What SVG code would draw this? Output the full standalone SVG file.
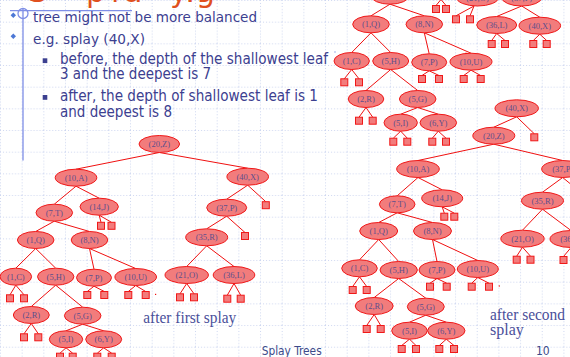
<svg xmlns="http://www.w3.org/2000/svg" xmlns:xlink="http://www.w3.org/1999/xlink" width="570" height="357" viewBox="0 0 570 357">
<style>
.nd ellipse{fill:#f27c7c;stroke:#f01818;stroke-width:1}
.nd text{font-family:"Liberation Serif",serif;font-size:8.5px;fill:#5c4f8c;text-anchor:middle}
.lf{fill:#f27c7c;stroke:#f01818;stroke-width:1}
#edges path{stroke:#f01010;stroke-width:1;fill:none}
.bt{font-family:"DejaVu Sans Condensed","DejaVu Sans",sans-serif;font-stretch:condensed;fill:#3c4090}
.cap{font-family:"Liberation Serif",serif;font-size:16px;fill:#4a4f9a}
.ft{font-family:"DejaVu Sans Condensed","DejaVu Sans",sans-serif;font-size:12px;fill:#3c4a8a}
.ttl{font-family:"DejaVu Sans",sans-serif;font-size:30px;fill:#e0501e}
</style>
<defs>
<pattern id="grid" width="21.67" height="21.67" patternUnits="userSpaceOnUse">
<path d="M0,0.5 H21.67 M0.5,0 V21.67" stroke="#cdd6f0" stroke-width="1" stroke-dasharray="1,2" fill="none"/>
</pattern>
<rect id="sq" x="-3.5" y="-3.5" width="7" height="7"/>
</defs>
<rect width="570" height="357" fill="#ffffff"/>
<rect width="570" height="357" fill="url(#grid)"/>

<g id="title">
<text class="ttl" x="28 86 111 124 170 186 186 196" y="1.5">Splaying</text>
</g>

<g id="decor" stroke="#7f8fe6" fill="none" stroke-width="1.3">
<path d="M10,10.7 H132 M23,8 V160.5"/>
<circle cx="23" cy="13.5" r="5"/>
</g>

<g id="bullets">
<path d="M13.3,12.5 L16,15.3 L13.3,18.1 L10.6,15.3Z" fill="#4d78d6"/>
<path d="M13.3,33.5 L16,36.3 L13.3,39.1 L10.6,36.3Z" fill="#4d78d6"/>
<rect x="42.7" y="58.3" width="4.6" height="4.8" fill="#3c4090"/>
<rect x="42.7" y="95" width="4.6" height="4.8" fill="#3c4090"/>
<text class="bt" x="33" y="22.3" font-size="14" textLength="224" lengthAdjust="spacingAndGlyphs">tree might not be more balanced</text>
<text class="bt" x="33" y="43.7" font-size="14" textLength="112" lengthAdjust="spacingAndGlyphs">e.g. splay (40,X)</text>
<text class="bt" x="60" y="64" font-size="15" textLength="268" lengthAdjust="spacingAndGlyphs">before, the depth of the shallowest leaf</text>
<text class="bt" x="60" y="79.3" font-size="15" textLength="151" lengthAdjust="spacingAndGlyphs">3 and the deepest is 7</text>
<text class="bt" x="60" y="101" font-size="15" textLength="258" lengthAdjust="spacingAndGlyphs">after, the depth of shallowest leaf is 1</text>
<text class="bt" x="60" y="116.7" font-size="15" textLength="112" lengthAdjust="spacingAndGlyphs">and deepest is 8</text>
</g>

<g id="edges">
<path d="M159.3,152.5 L76,169.2 M159.3,152.5 L247.7,168.2 M76,186.2 L54.3,204.2 M76,186.2 L99.2,198.2 M247.7,185.2 L226.7,199.2 M247.7,185.2 L265.8,201.7 M99.2,215.2 L101,222.3 M99.2,215.2 L111.5,222.3 M226.7,216.2 L206.7,228.8 M226.7,216.2 L245,232.5 M54.3,221.2 L35.7,231.5 M54.3,221.2 L89.5,231.5 M206.7,245.8 L186.7,266.5 M206.7,245.8 L234,266.5 M35.7,248.5 L15.8,268.2 M35.7,248.5 L55.7,268.2 M89.5,248.5 L94,269.2 M89.5,248.5 L135.7,268.5 M15.8,285.2 L10,294.8 M15.8,285.2 L24,294.8 M94,286.2 L87.3,291.5 M94,286.2 L104.3,291.5 M135.7,285.5 L128.3,291.5 M135.7,285.5 L145.7,291.5 M186.7,283.5 L180,293.8 M186.7,283.5 L194,293.8 M234,283.5 L227.3,295.2 M234,283.5 L240.7,295.2 M55.7,285.2 L31.3,306.5 M55.7,285.2 L82.7,307.2 M31.3,323.5 L24,333.8 M31.3,323.5 L38.3,333.8 M82.7,324.2 L66,330.8 M82.7,324.2 L103.7,330.8 M66,347.8 L60,353.2 M66,347.8 L72.7,353.2 M103.7,347.8 L97.3,353.2 M103.7,347.8 L111.7,353.2"/>
<path d="M516.7,116.8 L493.8,127.2 M516.7,116.8 L534.3,133.8 M493.8,144.2 L418,160.5 M493.8,144.2 L562.7,160.5 M418,177.5 L397.2,195.8 M418,177.5 L442.2,189.8 M442.2,206.8 L444.3,213.2 M442.2,206.8 L454.3,213.2 M562.7,177.5 L542.5,192.2 M562.7,177.5 L590,200 M397.2,212.8 L378.7,222.5 M397.2,212.8 L432.5,222.5 M542.5,209.2 L522.5,230.2 M542.5,209.2 L571,230.5 M522.5,247.2 L516.7,256.2 M522.5,247.2 L530.5,256.2 M571,247.5 L563.5,256.5 M571,247.5 L578,256.5 M378.7,239.5 L359.5,259.8 M378.7,239.5 L398.7,261.5 M432.5,239.5 L437,261.5 M432.5,239.5 L477.8,260.5 M359.5,276.8 L352.7,286.5 M359.5,276.8 L366.7,286.5 M437,278.5 L430,283.2 M437,278.5 L446.7,283.2 M477.8,277.5 L471.7,283.2 M477.8,277.5 L489,283.2 M398.7,278.5 L374.2,297.5 M398.7,278.5 L425.8,298.2 M374.2,314.5 L366.7,325.5 M374.2,314.5 L380.7,325.5 M425.8,315.2 L409.5,322.2 M425.8,315.2 L446.3,322.2 M409.5,339.2 L401.7,345.5 M409.5,339.2 L416,345.5 M446.3,339.2 L439.3,345.5 M446.3,339.2 L454,345.5"/>
<path d="M390,4.2 L371,15.8 M390,4.2 L424.3,15.8 M441,-0.5 L436,5.5 M441,-0.5 L446,5.5 M474,6 L456,15.8 M474,6 L470,15.8 M521.7,6 L496.7,16.5 M521.7,6 L539.8,17.2 M496.7,33.5 L491.7,40.5 M496.7,33.5 L505,40.5 M539.8,34.2 L533.3,40.5 M539.8,34.2 L546.7,40.5 M371,32.8 L351.7,52.5 M371,32.8 L390.7,52.5 M424.3,32.8 L429.2,53.8 M424.3,32.8 L471,53.2 M351.7,69.5 L344.3,78.8 M351.7,69.5 L359,78.8 M429.2,70.8 L422,75.5 M429.2,70.8 L439,75.5 M471,70.2 L463.7,75.5 M471,70.2 L480.7,75.5 M390.7,69.5 L366,90.5 M390.7,69.5 L417.7,90.5 M366,107.5 L359,117.2 M366,107.5 L372.7,117.2 M417.7,107.5 L400.7,114.2 M417.7,107.5 L438.3,114.2 M400.7,131.2 L393.3,138.2 M400.7,131.2 L407.3,138.2 M438.3,131.2 L432.3,138.2 M438.3,131.2 L446,138.2"/>
</g>

<g id="tree-first">
<g id="A20Z" class="nd"><ellipse cx="159.3" cy="144" rx="20.3" ry="8.5"/><text x="159.3" y="147">(20,Z)</text></g>
<g id="A10A" class="nd"><ellipse cx="76" cy="177.7" rx="20.8" ry="8.5"/><text x="76" y="180.7">(10,A)</text></g>
<g id="A40X" class="nd"><ellipse cx="247.7" cy="176.7" rx="20.8" ry="8.5"/><text x="247.7" y="179.7">(40,X)</text></g>
<g id="A7T" class="nd"><ellipse cx="54.3" cy="212.7" rx="18.3" ry="8.5"/><text x="54.3" y="215.7">(7,T)</text></g>
<g id="A14J" class="nd"><ellipse cx="99.2" cy="206.7" rx="19.2" ry="8.5"/><text x="99.2" y="209.7">(14,J)</text></g>
<g id="A37P" class="nd"><ellipse cx="226.7" cy="207.7" rx="20" ry="8.5"/><text x="226.7" y="210.7">(37,P)</text></g>
<g id="A35R" class="nd"><ellipse cx="206.7" cy="237.3" rx="21" ry="8.5"/><text x="206.7" y="240.3">(35,R)</text></g>
<g id="A1Q" class="nd"><ellipse cx="35.7" cy="240" rx="18.3" ry="8.5"/><text x="35.7" y="243">(1,Q)</text></g>
<g id="A8N" class="nd"><ellipse cx="89.5" cy="240" rx="18.3" ry="8.5"/><text x="89.5" y="243">(8,N)</text></g>
<g id="A1C" class="nd"><ellipse cx="15.8" cy="276.7" rx="15.8" ry="8.5"/><text x="15.8" y="279.7">(1,C)</text></g>
<g id="A5H" class="nd"><ellipse cx="55.7" cy="276.7" rx="18.2" ry="8.5"/><text x="55.7" y="279.7">(5,H)</text></g>
<g id="A7P" class="nd"><ellipse cx="94" cy="277.7" rx="17.5" ry="8.5"/><text x="94" y="280.7">(7,P)</text></g>
<g id="A10U" class="nd"><ellipse cx="135.7" cy="277" rx="20.8" ry="8.5"/><text x="135.7" y="280">(10,U)</text></g>
<g id="A21O" class="nd"><ellipse cx="186.7" cy="275" rx="21.7" ry="8.5"/><text x="186.7" y="278">(21,O)</text></g>
<g id="A36L" class="nd"><ellipse cx="234" cy="275" rx="20.8" ry="8.5"/><text x="234" y="278">(36,L)</text></g>
<g id="A2R" class="nd"><ellipse cx="31.3" cy="315" rx="18" ry="8.5"/><text x="31.3" y="318">(2,R)</text></g>
<g id="A5G" class="nd"><ellipse cx="82.7" cy="315.7" rx="18.3" ry="8.5"/><text x="82.7" y="318.7">(5,G)</text></g>
<g id="A5I" class="nd"><ellipse cx="66" cy="339.3" rx="16.7" ry="8.5"/><text x="66" y="342.3">(5,I)</text></g>
<g id="A6Y" class="nd"><ellipse cx="103.7" cy="339.3" rx="18" ry="8.5"/><text x="103.7" y="342.3">(6,Y)</text></g>
<g id="A-leaves" class="lf">
<use xlink:href="#sq" x="265.8" y="205.2"/><use xlink:href="#sq" x="245" y="236"/>
<use xlink:href="#sq" x="101" y="225.8"/><use xlink:href="#sq" x="111.5" y="225.8"/>
<use xlink:href="#sq" x="10" y="298.3"/><use xlink:href="#sq" x="24" y="298.3"/>
<use xlink:href="#sq" x="87.3" y="295"/><use xlink:href="#sq" x="104.3" y="295"/>
<use xlink:href="#sq" x="128.3" y="295"/><use xlink:href="#sq" x="145.7" y="295"/>
<use xlink:href="#sq" x="180" y="297.3"/><use xlink:href="#sq" x="194" y="297.3"/>
<use xlink:href="#sq" x="227.3" y="298.7"/><use xlink:href="#sq" x="240.7" y="298.7"/>
<use xlink:href="#sq" x="24" y="337.3"/><use xlink:href="#sq" x="38.3" y="337.3"/>
<use xlink:href="#sq" x="60" y="356.7"/><use xlink:href="#sq" x="72.7" y="356.7"/>
<use xlink:href="#sq" x="97.3" y="356.7"/><use xlink:href="#sq" x="111.7" y="356.7"/>
</g>
<rect x="155" y="293.8" width="1.2" height="1.2" fill="#f01010"/>
</g>

<g id="tree-second">
<g id="B40X" class="nd"><ellipse cx="516.7" cy="108.3" rx="21.7" ry="8.5"/><text x="516.7" y="111.3">(40,X)</text></g>
<g id="B20Z" class="nd"><ellipse cx="493.8" cy="135.7" rx="21" ry="8.5"/><text x="493.8" y="138.7">(20,Z)</text></g>
<g id="B10A" class="nd"><ellipse cx="418" cy="169" rx="21.3" ry="8.5"/><text x="418" y="172">(10,A)</text></g>
<g id="B37P" class="nd"><ellipse cx="562.7" cy="169" rx="21" ry="8.5"/><text x="562.7" y="172">(37,P)</text></g>
<g id="B7T" class="nd"><ellipse cx="397.2" cy="204.3" rx="17.8" ry="8.5"/><text x="397.2" y="207.3">(7,T)</text></g>
<g id="B14J" class="nd"><ellipse cx="442.2" cy="198.3" rx="20.5" ry="8.5"/><text x="442.2" y="201.3">(14,J)</text></g>
<g id="B35R" class="nd"><ellipse cx="542.5" cy="200.7" rx="21" ry="8.5"/><text x="542.5" y="203.7">(35,R)</text></g>
<g id="B1Q" class="nd"><ellipse cx="378.7" cy="231" rx="19" ry="8.5"/><text x="378.7" y="234">(1,Q)</text></g>
<g id="B8N" class="nd"><ellipse cx="432.5" cy="231" rx="19" ry="8.5"/><text x="432.5" y="234">(8,N)</text></g>
<g id="B21O" class="nd"><ellipse cx="522.5" cy="238.7" rx="21.7" ry="8.5"/><text x="522.5" y="241.7">(21,O)</text></g>
<g id="B36L" class="nd"><ellipse cx="571" cy="239" rx="21" ry="8.5"/><text x="571" y="242">(36,L)</text></g>
<g id="B1C" class="nd"><ellipse cx="359.5" cy="268.3" rx="17.8" ry="8.5"/><text x="359.5" y="271.3">(1,C)</text></g>
<g id="B5H" class="nd"><ellipse cx="398.7" cy="270" rx="18.7" ry="8.5"/><text x="398.7" y="273">(5,H)</text></g>
<g id="B7P" class="nd"><ellipse cx="437" cy="270" rx="18" ry="8.5"/><text x="437" y="273">(7,P)</text></g>
<g id="B10U" class="nd"><ellipse cx="477.8" cy="269" rx="20.5" ry="8.5"/><text x="477.8" y="272">(10,U)</text></g>
<g id="B2R" class="nd"><ellipse cx="374.2" cy="306" rx="19" ry="8.5"/><text x="374.2" y="309">(2,R)</text></g>
<g id="B5G" class="nd"><ellipse cx="425.8" cy="306.7" rx="18.5" ry="8.5"/><text x="425.8" y="309.7">(5,G)</text></g>
<g id="B5I" class="nd"><ellipse cx="409.5" cy="330.7" rx="17.8" ry="8.5"/><text x="409.5" y="333.7">(5,I)</text></g>
<g id="B6Y" class="nd"><ellipse cx="446.3" cy="330.7" rx="18.7" ry="8.5"/><text x="446.3" y="333.7">(6,Y)</text></g>
<g id="B-leaves" class="lf">
<use xlink:href="#sq" x="534.3" y="137.3"/>
<use xlink:href="#sq" x="444.3" y="216.7"/><use xlink:href="#sq" x="454.3" y="216.7"/>
<use xlink:href="#sq" x="516.7" y="259.7"/><use xlink:href="#sq" x="530.5" y="259.7"/>
<use xlink:href="#sq" x="563.5" y="260"/>
<use xlink:href="#sq" x="352.7" y="290"/><use xlink:href="#sq" x="366.7" y="290"/>
<use xlink:href="#sq" x="430" y="286.7"/><use xlink:href="#sq" x="446.7" y="286.7"/>
<use xlink:href="#sq" x="471.7" y="286.7"/><use xlink:href="#sq" x="489" y="286.7"/>
<use xlink:href="#sq" x="366.7" y="329"/><use xlink:href="#sq" x="380.7" y="329"/>
<use xlink:href="#sq" x="401.7" y="349"/><use xlink:href="#sq" x="416" y="349"/>
<use xlink:href="#sq" x="439.3" y="349"/><use xlink:href="#sq" x="454" y="349"/>
</g>
<rect x="498.7" y="285.4" width="1.2" height="1.2" fill="#f01010"/>
</g>

<g id="tree-original">
<g id="C7T" class="nd"><ellipse cx="390" cy="-4.3" rx="19" ry="8.5"/><text x="390" y="-1.3">(7,T)</text></g>
<g id="C14J" class="nd"><ellipse cx="441" cy="-9" rx="19" ry="8.5"/><text x="441" y="-6">(14,J)</text></g>
<g id="C21O" class="nd"><ellipse cx="477.5" cy="-2.5" rx="21" ry="8.5"/><text x="477.5" y="0.5">(21,O)</text></g>
<g id="C37P" class="nd"><ellipse cx="521.7" cy="-2.5" rx="20" ry="8.5"/><text x="521.7" y="0.5">(37,P)</text></g>
<g id="C1Q" class="nd"><ellipse cx="371" cy="24.3" rx="18.3" ry="8.5"/><text x="371" y="27.3">(1,Q)</text></g>
<g id="C8N" class="nd"><ellipse cx="424.3" cy="24.3" rx="18.3" ry="8.5"/><text x="424.3" y="27.3">(8,N)</text></g>
<g id="C36L" class="nd"><ellipse cx="496.7" cy="25" rx="20" ry="8.5"/><text x="496.7" y="28">(36,L)</text></g>
<g id="C40X" class="nd"><ellipse cx="539.8" cy="25.7" rx="20.8" ry="8.5"/><text x="539.8" y="28.7">(40,X)</text></g>
<g id="C1C" class="nd"><ellipse cx="351.7" cy="61" rx="17.7" ry="8.5"/><text x="351.7" y="64">(1,C)</text></g>
<g id="C5H" class="nd"><ellipse cx="390.7" cy="61" rx="18" ry="8.5"/><text x="390.7" y="64">(5,H)</text></g>
<g id="C7P" class="nd"><ellipse cx="429.2" cy="62.3" rx="17.5" ry="8.5"/><text x="429.2" y="65.3">(7,P)</text></g>
<g id="C10U" class="nd"><ellipse cx="471" cy="61.7" rx="21" ry="8.5"/><text x="471" y="64.7">(10,U)</text></g>
<g id="C2R" class="nd"><ellipse cx="366" cy="99" rx="17.8" ry="8.5"/><text x="366" y="102">(2,R)</text></g>
<g id="C5G" class="nd"><ellipse cx="417.7" cy="99" rx="18.3" ry="8.5"/><text x="417.7" y="102">(5,G)</text></g>
<g id="C5I" class="nd"><ellipse cx="400.7" cy="122.7" rx="16.7" ry="8.5"/><text x="400.7" y="125.7">(5,I)</text></g>
<g id="C6Y" class="nd"><ellipse cx="438.3" cy="122.7" rx="18.3" ry="8.5"/><text x="438.3" y="125.7">(6,Y)</text></g>
<g id="C-leaves" class="lf">
<use xlink:href="#sq" x="436" y="9"/><use xlink:href="#sq" x="446" y="9"/>
<use xlink:href="#sq" x="456" y="19.3"/><use xlink:href="#sq" x="470" y="19.3"/>
<use xlink:href="#sq" x="491.7" y="44"/><use xlink:href="#sq" x="505" y="44"/>
<use xlink:href="#sq" x="533.3" y="44"/><use xlink:href="#sq" x="546.7" y="44"/>
<use xlink:href="#sq" x="344.3" y="82.3"/><use xlink:href="#sq" x="359" y="82.3"/>
<use xlink:href="#sq" x="422" y="79"/><use xlink:href="#sq" x="439" y="79"/>
<use xlink:href="#sq" x="463.7" y="79"/><use xlink:href="#sq" x="480.7" y="79"/>
<use xlink:href="#sq" x="359" y="120.7"/><use xlink:href="#sq" x="372.7" y="120.7"/>
<use xlink:href="#sq" x="393.3" y="141.7"/><use xlink:href="#sq" x="407.3" y="141.7"/>
<use xlink:href="#sq" x="432.3" y="141.7"/><use xlink:href="#sq" x="446" y="141.7"/>
</g>
<rect x="465.4" y="52.7" width="1.2" height="1.2" fill="#f01010"/>
<rect x="334.4" y="51.4" width="1.2" height="1.2" fill="#8090e0"/>
</g>

<g id="captions">
<text class="cap" x="143.3" y="322.7" textLength="93" lengthAdjust="spacingAndGlyphs">after first splay</text>
<text class="cap" x="490" y="320" textLength="75" lengthAdjust="spacingAndGlyphs">after second</text>
<text class="cap" x="490" y="334.5">splay</text>
<text class="ft" x="261.7" y="355" textLength="60" lengthAdjust="spacingAndGlyphs">Splay Trees</text>
<text class="ft" x="536" y="355">10</text>
</g>
</svg>
